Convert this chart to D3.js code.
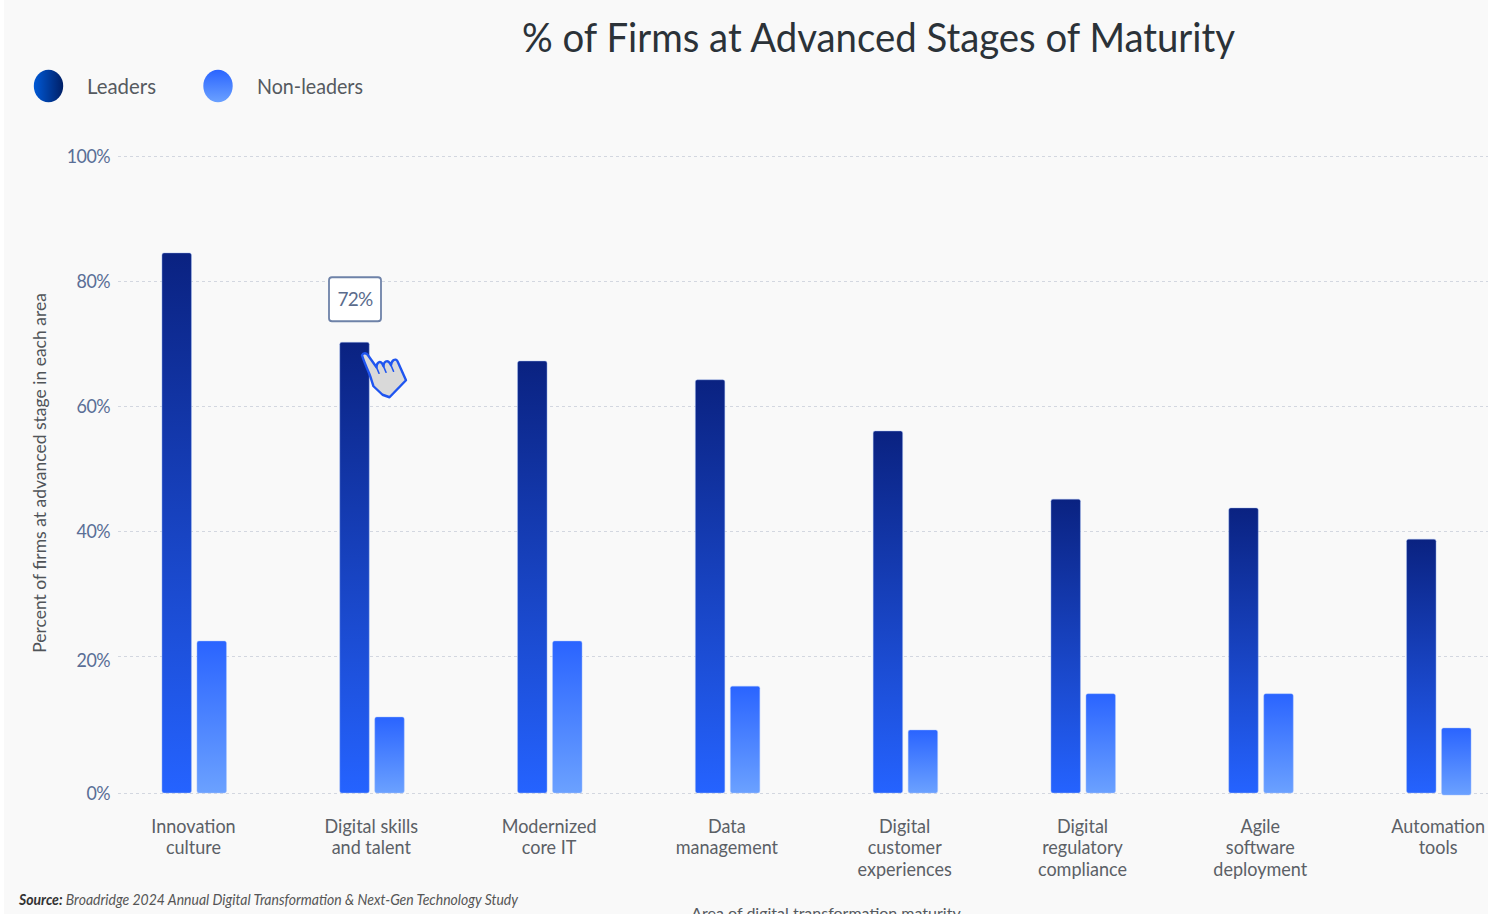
<!DOCTYPE html>
<html><head><meta charset="utf-8">
<script src="https://cdn.jsdelivr.net/npm/d3@7/dist/d3.min.js"></script>
<style>
html,body{margin:0;padding:0;background:#fff;overflow:hidden}
svg{display:block}
text{font-family:Lato,"Noto Sans",sans-serif}
</style></head><body>
<svg id="c" width="1488" height="914"></svg>
<script>
const categories = [
  ["Innovation","culture"],
  ["Digital skills","and talent"],
  ["Modernized","core IT"],
  ["Data","management"],
  ["Digital","customer","experiences"],
  ["Digital","regulatory","compliance"],
  ["Agile","software","deployment"],
  ["Automation","tools"]
];
const leaders    = [84.5, 70.2, 67.2, 64.2, 56.0, 45.1, 43.7, 38.7];
const nonLeaders = [22.4, 11.1, 22.4, 15.6,  9.2, 14.5, 14.5,  9.5];
const nonLeaderBase = [0, 0, 0, 0, 0, 0, 0, -0.3];
const seriesNames = ["Leaders","Non-leaders"];
const yTicks = [0, 20, 40, 60, 80, 100];
const calloutLabel = "72%";
const calloutIndex = 1;
const titleText = "% of Firms at Advanced Stages of Maturity";
const yTitle = "Percent of firms at advanced stage in each area";
const xTitle = "Area of digital transformation maturity";
const sourceLead = "Source:";
const sourceText = " Broadridge 2024 Annual Digital Transformation & Next-Gen Technology Study";

const svg = d3.select("#c");
svg.append("rect").attr("x",4).attr("y",0).attr("width",1484).attr("height",914).attr("fill","#f9f9f9");

const defs = svg.append("defs");
function grad(id, stops, x2, y2){
  const g = defs.append("linearGradient").attr("id",id)
    .attr("x1",0).attr("y1",0).attr("x2",x2).attr("y2",y2);
  stops.forEach(([o,c])=>g.append("stop").attr("offset",o).attr("stop-color",c));
}
grad("gL",[[0,"#0a2281"],[1,"#2563ff"]],0,1);
grad("gN",[[0,"#2a64ff"],[1,"#6ba1ff"]],0,1);
grad("gLeg",[[0,"#0059d6"],[1,"#001f66"]],1,0);

const keys = categories.map((d,i)=>i);
const x = d3.scaleBand().domain(keys).range([104.6,1527]);
const y = d3.scaleLinear().domain([0,20,100]).range([793,656,156]);
const barW = 29.5, groupW = 64.5;
const groupLeft = i => x(i) + x.bandwidth()/2 - groupW/2 + 0.7;

// y axis with gridlines
const gy = svg.append("g").attr("transform","translate(118,0)")
  .call(d3.axisLeft(y).tickValues(yTicks).tickFormat(d=>d+"%").tickSize(-1370).tickPadding(8.6));
gy.select(".domain").remove();
gy.selectAll(".tick line").attr("stroke","#d3d7e0").attr("stroke-width",1).attr("stroke-dasharray","3 3");
gy.selectAll(".tick text").attr("fill","#5a6e96").attr("font-size",19).attr("letter-spacing",-0.6)
  .attr("font-family","Lato").attr("transform",d=>`translate(0,${d===20?4:0}) scale(.94,1)`);

// x axis labels
const gx = svg.append("g").attr("transform","translate(0,793)")
  .call(d3.axisBottom(x).tickSize(0).tickFormat(""));
gx.select(".domain").remove();
gx.selectAll(".tick").each(function(i){
  const t = d3.select(this).select("text").attr("y",0).attr("dy",null)
    .attr("fill","#5b6066").attr("font-size",19.5).attr("font-family","Lato").attr("text-anchor","middle")
    .attr("transform","scale(.925,1)");
  categories[i].forEach((line,j)=>{
    t.append("tspan").attr("x",0).attr("y",40+j*21.5).text(line);
  });
});

// bars
const barPath = (xl, top, bottom, w) => {
  const r = 2;
  return `M${xl},${bottom-r}V${top+r}Q${xl},${top} ${xl+r},${top}H${xl+w-r}Q${xl+w},${top} ${xl+w},${top+r}V${bottom-r}Q${xl+w},${bottom} ${xl+w-r},${bottom}H${xl+r}Q${xl},${bottom} ${xl},${bottom-r}Z`;
};
const groups = svg.append("g").selectAll("g").data(keys).join("g")
  .attr("transform",i=>`translate(${groupLeft(i)},0)`);
groups.append("path").attr("fill","url(#gL)").attr("stroke","#a9c0f5").attr("stroke-opacity",.55).attr("stroke-width",.8)
  .attr("d",i=>barPath(0,y(leaders[i]),y(0),barW));
groups.append("path").attr("fill","url(#gN)").attr("stroke","#a9c6ff").attr("stroke-opacity",.55).attr("stroke-width",.8)
  .attr("d",i=>barPath(groupW-barW,y(nonLeaders[i]),y(nonLeaderBase[i]),barW));

// callout
const cx = groupLeft(calloutIndex) + barW/2, cy = y(leaders[calloutIndex]);
const call = svg.append("g").attr("transform",`translate(${cx},${cy})`);
call.append("rect").attr("x",-25.5).attr("y",-65).attr("width",52).attr("height",44).attr("rx",3)
  .attr("fill","#fff").attr("stroke","#6e82a8").attr("stroke-width",1.8);
call.append("text").attr("x",0.5).attr("y",-36).attr("text-anchor","middle").attr("fill","#5a6b8c")
  .attr("font-size",19).attr("letter-spacing",-0.8).text(calloutLabel);
// pointer hand
const hand = call.append("g").attr("fill","none").attr("stroke","#1f55f0").attr("stroke-width",2.4)
  .attr("stroke-linejoin","round").attr("stroke-linecap","round");
hand.append("path")
  .attr("d","M7.5,13 C9,10 12,10.5 13.5,13 L22,25 C22,20 25.5,18.5 27.5,21 L29,24 C29,19 33,17.5 35,20.5 L36.5,23 C37,18 41,15.5 43,19 L51.5,38 L35,55 L28,52.5 L19,44 C17,38 16.5,36 15,32 C12,25 9,18 7.5,13 Z")
  .attr("fill","#d9d9d9");
hand.append("path").attr("d","M22,25 L24.5,31 M29,24 L31.5,30 M36.5,23 L39,29").attr("stroke-width",1.6);

// legend
const legendX = [48.5, 218];
const legendFill = ["url(#gLeg)","url(#gN)"];
const legendTextX = [87, 257];
const legendTextW = [69, 106];
const leg = svg.append("g").selectAll("g").data(seriesNames).join("g");
leg.append("ellipse").attr("cx",(d,i)=>legendX[i]).attr("cy",86).attr("rx",14.7).attr("ry",16.3)
  .attr("fill",(d,i)=>legendFill[i]);
leg.append("text").attr("x",(d,i)=>legendTextX[i]).attr("y",94).attr("fill","#555a60")
  .attr("font-size",22).attr("textLength",(d,i)=>legendTextW[i]).attr("lengthAdjust","spacingAndGlyphs").text(d=>d);

// titles
svg.append("text").attr("x",522).attr("y",52).attr("fill","#2b3238")
  .attr("font-size",41).attr("textLength",713).attr("lengthAdjust","spacingAndGlyphs").text(titleText);
svg.append("text").attr("transform","translate(46,473) rotate(-90)").attr("text-anchor","middle")
  .attr("fill","#505458").attr("font-size",17.5).text(yTitle);
svg.append("text").attr("x",826).attr("y",919).attr("text-anchor","middle")
  .attr("fill","#555a60").attr("font-size",16).text(xTitle);
const src = svg.append("text").attr("x",19).attr("y",905).attr("fill","#555").attr("font-size",15)
  .attr("textLength",499).attr("lengthAdjust","spacingAndGlyphs");
src.append("tspan").attr("font-weight",700).attr("font-style","italic").attr("fill","#333").text(sourceLead);
src.append("tspan").attr("font-style","italic").text(sourceText);
</script>
</body></html>
